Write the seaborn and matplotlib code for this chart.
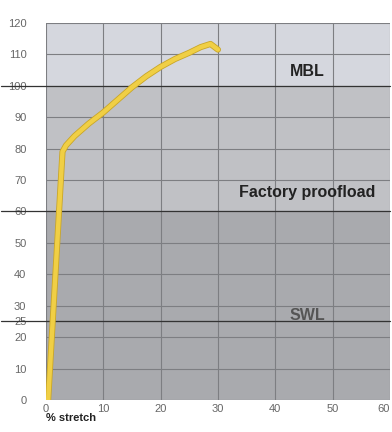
import numpy as np
import pandas as pd
from matplotlib import pyplot as plt
import matplotlib.patheffects as pe
import seaborn as sns

# curve
stretch = [0.4, 2.9, 3.5, 5, 7.5, 10, 12.5, 15, 17.5, 20, 22.5, 25, 27, 28.7, 30]
load = [0, 79, 81, 84, 88, 91.5, 95.5, 99.5, 103, 106, 108.5, 110.5, 112.3, 113.3, 111.5]

x_ticks = [0, 10, 20, 30, 40, 50, 60]
y_ticks = [0, 10, 20, 25, 30, 40, 50, 60, 70, 80, 90, 100, 110, 120]
y_labels = ['0', '10', '20', '25', '30', '40', '50', '60', '70', '80', '90', '100', '110', '120']

zones = [(0, 60, '#a9aaae'), (60, 100, '#c0c1c5'), (100, 120, '#d5d7de')]
zone_labels = [('MBL', 104.5), ('Factory proofload', 66), ('SWL', 27)]
limits = [100, 60, 25]

sns.set_style('white')
plt.rcParams['font.family'] = ['Liberation Sans', 'DejaVu Sans']

fig = plt.figure(figsize=(3.92, 4.32), dpi=100)
ax = fig.add_axes([0.117, 0.074, 0.878, 0.873])

for lo, hi, c in zones:
    ax.axhspan(lo, hi, color=c, zorder=0)

for v in y_ticks:
    ax.axhline(v, color='#7d7e82', lw=0.8, zorder=1)
for v in x_ticks:
    ax.axvline(v, color='#7d7e82', lw=0.8, zorder=1)

for v in limits:
    ax.plot([-0.13, 1.0], [v, v], transform=ax.get_yaxis_transform(),
            color='#333333', lw=0.9, clip_on=False, zorder=2)

df = pd.DataFrame({'stretch': stretch, 'load': load})
sns.lineplot(data=df, x='stretch', y='load', ax=ax, color='#f0cf45', lw=3.2,
             sort=False, zorder=3,
             path_effects=[pe.Stroke(linewidth=4.4, foreground='#c9a628'), pe.Normal()])

for txt, yv in zone_labels:
    col = '#555555' if txt == 'SWL' else '#222222'
    ax.text(45.5, yv, txt, ha='center', va='center', fontsize=11.5,
            fontweight='bold', color=col)

ax.set_xlim(0, 60)
ax.set_ylim(0, 120)
ax.set_xticks(x_ticks)
ax.set_yticks(y_ticks)
ax.set_yticklabels(y_labels)
ax.tick_params(axis='both', length=0, labelsize=8, labelcolor='#666666')
ax.tick_params(axis='y', pad=14)
ax.tick_params(axis='x', pad=3)
ax.get_xticklabels()[-1].set_ha('right')
for s in ax.spines.values():
    s.set_visible(False)
ax.set_xlabel('')
ax.set_ylabel('')
ax.text(0, -0.048, '% stretch', transform=ax.transAxes, fontsize=8,
        color='#222222', fontweight='bold', ha='left', va='center')

fig.savefig('out.png', dpi=100)
